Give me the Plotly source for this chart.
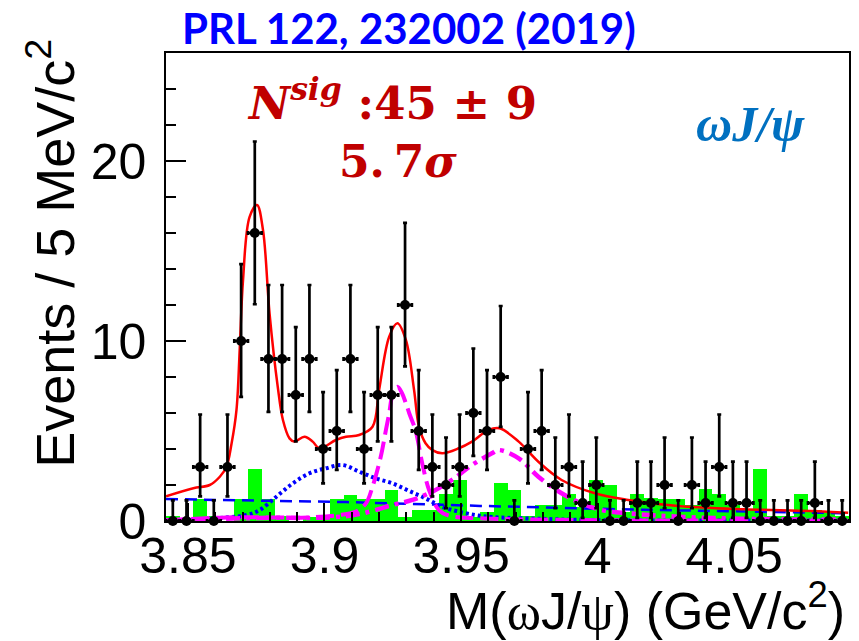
import plotly.graph_objects as go

# ---------------- data ----------------
bin_centers = [3.8445 + 0.005 * k for k in range(50)]
counts = [0, 0, 3, 0, 3, 10, 16, 9, 9, 7,
          9, 4, 5, 9, 4, 7, 7, 12, 5, 3,
          2, 3, 6, 5, 8, 0, 4, 5, 2, 3,
          1, 2, 0, 0, 1, 1, 2, 0, 2, 1,
          3, 1, 1, 0, 0, 0, 0, 1, 0, 0]
green_hist = [0.3, 0.0, 1.2, 0.3, 0.0, 1.2, 2.9, 1.2, 0.3, 0.0,
              0.2, 0.3, 1.2, 1.45, 1.2, 1.2, 1.75, 0.2, 0.6, 0.6,
              1.5, 2.3, 0.2, 0.5, 2.1, 1.7, 0.3, 0.9, 0.9, 1.5,
              0.8, 2.3, 2.0, 0.5, 1.5, 1.3, 1.2, 1.2, 0.9, 1.8,
              1.5, 0.9, 0.6, 2.9, 0.3, 0.3, 1.5, 0.6, 0.5, 0.3]
# Poisson 68% intervals (lower, upper) used for the error bars
poisson_err = {0: (0.0, 1.148), 1: (0.827, 2.300), 2: (1.292, 2.638),
               3: (1.633, 2.918), 4: (1.914, 3.162), 5: (2.159, 3.382),
               6: (2.380, 3.583), 7: (2.581, 3.770), 8: (2.768, 3.944),
               9: (2.943, 4.110), 10: (3.108, 4.266), 12: (3.415, 4.559),
               16: (3.957, 5.083)}

# total fit (red)
fit_m = [3.842, 3.852, 3.858, 3.8617, 3.8641, 3.866, 3.8678, 3.869, 3.8702, 3.8726,
         3.8753, 3.8775, 3.8799, 3.8829, 3.8848, 3.8872, 3.889, 3.8927, 3.8957, 3.8981,
         3.9042, 3.9079, 3.9127, 3.9176, 3.920, 3.9237, 3.9267, 3.9298, 3.9328, 3.9346,
         3.937, 3.9395, 3.9431, 3.9492, 3.954, 3.9601, 3.9641, 3.9711, 3.9783, 3.9868,
         3.999, 4.0112, 4.0294, 4.0537, 4.078, 4.0917]
fit_v = [1.37, 1.82, 2.0, 2.46, 3.0, 4.3, 6.17, 9.6, 13.39, 16.9,
         17.56, 16.17, 11.54, 7.46, 5.61, 4.59, 4.41, 4.68, 4.41, 4.04,
         4.5, 4.68, 4.78, 5.24, 7.28, 10.24, 10.98, 10.06, 7.28, 5.24,
         4.32, 3.94, 3.76, 4.04, 4.41, 5.06, 5.15, 4.41, 3.29, 2.28,
         1.54, 1.17, 0.83, 0.65, 0.56, 0.46]

# broad component (blue dotted)
broad_m = [3.842, 3.855, 3.8617, 3.8714, 3.8763, 3.8824, 3.8884, 3.8945, 3.9006, 3.9066,
           3.9127, 3.9188, 3.9249, 3.931, 3.937, 3.9431, 3.9492, 3.9553, 3.9613, 3.9747,
           4.0, 4.0917]
broad_v = [0.05, 0.08, 0.17, 0.33, 0.61, 1.35, 2.09, 2.65, 2.93, 3.11,
           2.74, 2.37, 2.09, 1.67, 1.26, 0.79, 0.52, 0.33, 0.22, 0.14,
           0.05, 0.03]

# background (blue dashed)
bkg_m = [3.842, 3.908, 3.957, 4.017, 4.092]
bkg_v = [1.22, 1.05, 0.84, 0.62, 0.43]

# narrow peak near 3.927 (magenta long dash)
pk1_m = [3.842, 3.8641, 3.8945, 3.9054, 3.9115, 3.9152, 3.9176, 3.9206, 3.9225, 3.9237,
         3.9249, 3.9267, 3.9284, 3.9298, 3.931, 3.9334, 3.9358, 3.9383, 3.9419, 3.9456,
         3.9565, 4.0917]
pk1_v = [0.03, 0.2, 0.2, 0.33, 0.52, 0.98, 1.91, 3.57, 5.06, 5.98,
         7.0, 7.46, 7.1, 6.54, 6.0, 5.0, 3.2, 1.72, 0.61, 0.3,
         0.15, 0.02]

# peak near 3.964 (magenta dash-dot)
pk2_m = [3.842, 3.8763, 3.9018, 3.9127, 3.9249, 3.9322, 3.9395, 3.9467, 3.954, 3.9613,
         3.9638, 3.9711, 3.9783, 3.9868, 3.9941, 4.0014, 4.0112, 4.0294, 4.0585, 4.0917]
pk2_v = [0.03, 0.17, 0.2, 0.38, 0.89, 1.17, 1.63, 2.28, 3.11, 3.76,
         3.94, 3.48, 2.46, 1.54, 0.98, 0.61, 0.43, 0.24, 0.11, 0.08]

x_ticks = [3.85, 3.9, 3.95, 4.0, 4.05]
x_ticklabels = ["3.85", "3.9", "3.95", "4", "4.05"]
y_ticks = [0, 10, 20]

# ---------------- figure ----------------
err_lo = [poisson_err[c][0] for c in counts]
err_hi = [poisson_err[c][1] for c in counts]

fig = go.Figure()
fig.add_trace(go.Bar(x=bin_centers, y=green_hist, width=0.005,
                     marker=dict(color="#00ff00", line=dict(width=0)),
                     showlegend=False))
fig.add_trace(go.Scatter(x=bkg_m, y=bkg_v, mode="lines",
                         line=dict(color="#0000ff", width=2.5, dash="12px,7px"),
                         showlegend=False))
fig.add_trace(go.Scatter(x=broad_m, y=broad_v, mode="lines", line_shape="spline",
                         line=dict(color="#0000ff", width=4, dash="3px,3px"),
                         showlegend=False))
fig.add_trace(go.Scatter(x=pk2_m, y=pk2_v, mode="lines", line_shape="spline",
                         line=dict(color="#ff00ff", width=4.5, dash="14px,6px,4px,6px"),
                         showlegend=False))
fig.add_trace(go.Scatter(x=pk1_m, y=pk1_v, mode="lines", line_shape="spline",
                         line=dict(color="#ff00ff", width=4, dash="18px,7px"),
                         showlegend=False))
fig.add_trace(go.Scatter(x=fit_m, y=fit_v, mode="lines", line_shape="spline",
                         line=dict(color="#ff0000", width=2.5),
                         showlegend=False))
fig.add_trace(go.Scatter(x=bin_centers, y=counts, mode="markers",
                         marker=dict(color="black", size=10, symbol="circle"),
                         error_y=dict(type="data", symmetric=False, array=err_hi,
                                      arrayminus=err_lo, color="black",
                                      thickness=2.7, width=2),
                         error_x=dict(type="constant", value=0.0025, color="black",
                                      thickness=2.7, width=2),
                         cliponaxis=False, showlegend=False))

axis_font = dict(family="Liberation Sans, Arial, sans-serif", size=50, color="black")
fig.update_layout(
    width=859, height=641,
    margin=dict(l=166, r=8, t=53, b=120),
    paper_bgcolor="white", plot_bgcolor="white",
    bargap=0,
    xaxis=dict(range=[3.842, 4.092], tickmode="array", tickvals=x_ticks,
               ticktext=x_ticklabels, ticks="inside", ticklen=18, tickwidth=1.5,
               tickcolor="black", showline=True, linecolor="black", linewidth=1.5,
               mirror=True, showgrid=False, zeroline=False, tickfont=axis_font,
               ticklabelstandoff=-10,
               minor=dict(tickmode="linear", tick0=3.85, dtick=0.01, ticks="inside",
                          ticklen=9, tickwidth=1.5, tickcolor="black", showgrid=False)),
    yaxis=dict(range=[0, 26], tickmode="array", tickvals=y_ticks,
               ticks="inside", ticklen=20, tickwidth=1.5, tickcolor="black",
               showline=True, linecolor="black", linewidth=1.5, mirror=True,
               showgrid=False, zeroline=False, tickfont=axis_font,
               ticklabelstandoff=8,
               minor=dict(tickmode="linear", tick0=0, dtick=2, ticks="inside",
                          ticklen=10, tickwidth=1.5, tickcolor="black", showgrid=False)),
)

annotations = [
    dict(text="<b>PRL 122, 232002 (2019)</b>", xref="paper", yref="paper",
         x=(410 - 166) / 685, y=(521 - 28) / 468, xanchor="center", yanchor="middle",
         showarrow=False, font=dict(family="Lato, Open Sans, sans-serif", size=42, color="#0000ff")),
    dict(text="<b><i>N</i><sup><i>sig</i></sup> :45 ± 9</b>", xref="paper", yref="paper",
         x=(393 - 166) / 685, y=(521 - 100) / 468, xanchor="center", yanchor="middle",
         showarrow=False, font=dict(family="DejaVu Serif, serif", size=45, color="#c00000")),
    dict(text="<b>5.\u20097<i>σ</i></b>", xref="paper", yref="paper",
         x=(399 - 166) / 685, y=(521 - 162) / 468, xanchor="center", yanchor="middle",
         showarrow=False, font=dict(family="DejaVu Serif, serif", size=44, color="#c00000")),
    dict(text="<b><i>ωJ/ψ</i></b>", xref="paper", yref="paper",
         x=(752 - 166) / 685, y=(521 - 124) / 468, xanchor="center", yanchor="middle",
         showarrow=False, font=dict(family="Liberation Serif, serif", size=50, color="#0070c0")),
    dict(text="M(<span style='font-family:Liberation Serif'>ω</span>J/"
              "<span style='font-family:Liberation Serif'>ψ</span>) (GeV/c<sup>2</sup>)",
         xref="paper", yref="paper",
         x=(849 - 166) / 685, y=(521 - 607) / 468, xanchor="right", yanchor="middle",
         showarrow=False, font=dict(family="Liberation Sans, Arial, sans-serif", size=52, color="black")),
    dict(text="Events / 5 MeV/c<sup>2</sup>", xref="paper", yref="paper", textangle=-90,
         x=(50 - 166) / 685, y=(521 - 470) / 468, xanchor="center", yanchor="bottom",
         showarrow=False, font=dict(family="Liberation Sans, Arial, sans-serif", size=54, color="black")),
]
fig.update_layout(annotations=annotations)

fig.write_html("out.html")
